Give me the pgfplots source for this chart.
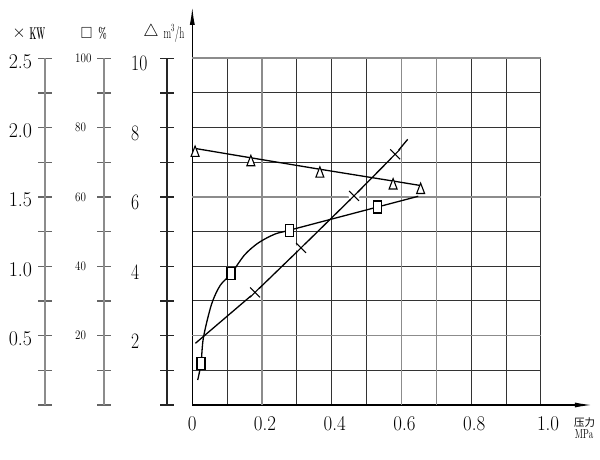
\documentclass[border=0pt]{standalone}
\usepackage{pgfplots}
\pgfplotsset{compat=1.18}
\usepackage{fontspec}
\usepackage{amssymb}
\usepackage{graphicx}
\usetikzlibrary{arrows.meta}
\newfontfamily\cjk{Noto Sans CJK SC}

\newcommand\xl[1]{\scalebox{0.9}[1]{\fontsize{21}{21}\selectfont #1}}
\newcommand\kl[1]{\scalebox{0.95}[1]{\fontsize{21}{21}\selectfont #1}}
\newcommand\pl[1]{\scalebox{0.85}[1]{\fontsize{13}{13}\selectfont #1}}
\newcommand\ml[1]{\scalebox{0.8}[1]{\fontsize{22}{22}\selectfont #1}}

\pgfdeclareplotmark{xw}{%
  \pgfpathcircle{\pgfpointorigin}{0.8\pgfplotmarksize}%
  \pgfsetfillcolor{white}\pgfusepathqfill
  \pgfpathmoveto{\pgfqpoint{-0.70710678\pgfplotmarksize}{-0.70710678\pgfplotmarksize}}%
  \pgfpathlineto{\pgfqpoint{0.70710678\pgfplotmarksize}{0.70710678\pgfplotmarksize}}%
  \pgfpathmoveto{\pgfqpoint{-0.70710678\pgfplotmarksize}{0.70710678\pgfplotmarksize}}%
  \pgfpathlineto{\pgfqpoint{0.70710678\pgfplotmarksize}{-0.70710678\pgfplotmarksize}}%
  \pgfusepathqstroke
}

\pgfplotsset{
  leftax/.style={at={(#1,54pt)}, anchor=south west, scale only axis,
    width=20pt, height=346.7pt, xmin=0, xmax=1, ymin=0, ymax=10,
    hide x axis, axis y line=left, y axis line style={-},
    ytick={0,...,10}, tick align=center, major tick length=14pt,
    yticklabel style={inner sep=0pt}},
  overlay/.style={at={(192.3pt,54pt)}, anchor=south west, scale only axis,
    width=348.6pt, height=346.7pt, xmin=0, xmax=1, hide axis, clip=false},
}

\begin{document}
\begin{tikzpicture}
\path[use as bounding box] (0,0) rectangle (600pt,459pt);

% KW scale
\begin{axis}[leftax=45pt,
  y axis line style={draw=black!45, line width=1.6pt},
  ytick style={draw=black!60, line width=1.3pt},
  yticklabels={,,\kl{0.5},,\kl{1.0},,\kl{1.5},,\kl{2.0},,\kl{2.5}},
  yticklabel style={anchor=east, xshift=-5.7pt, yshift=-3pt}]
\end{axis}
% percent scale
\begin{axis}[leftax=104pt,
  y axis line style={draw=black!45, line width=1.6pt},
  ytick style={draw=black!60, line width=1.3pt},
  yticklabels={,,\pl{20},,\pl{40},,\pl{60},,\pl{80},,\pl{100}},
  yticklabel style={anchor=west, xshift=-22pt, yshift=0pt}]
\end{axis}
% m3/h scale
\begin{axis}[leftax=167pt,
  y axis line style={draw=black!85, line width=1.3pt},
  ytick style={draw=black!85, line width=1.3pt},
  yticklabels={,,\ml{2},,\ml{4},,\ml{6},,\ml{8},,\ml{10}},
  yticklabel style={anchor=west, xshift=-29pt, yshift=-5.5pt}]
\end{axis}

% main grid axis with flow series
\begin{axis}[at={(192.3pt,54pt)}, anchor=south west, scale only axis,
  width=348.6pt, height=346.7pt,
  xmin=0, xmax=1, ymin=0, ymax=10, clip=false,
  axis x line=bottom, axis y line=left,
  axis line style={black, line width=1.3pt},
  x axis line style={-{Latex[length=17pt,width=5pt]}, shorten >=-51pt},
  y axis line style={-{Latex[length=18pt,width=5pt]}, shorten >=-51.5pt},
  major tick length=0pt,
  grid=major, major grid style={black!80, line width=1pt},
  xtick={0,0.1,0.3,0.4,0.5,0.8,0.9,1},
  xticklabels={\xl{0},,,\xl{\kern6.7pt 0.4},,\xl{\kern6.7pt 0.8},,\xl{\kern16pt 1.0}},
  extra x ticks={0.2,0.6,0.7},
  extra x tick labels={\xl{\kern6.7pt 0.2},\xl{\kern6.7pt 0.6},},
  extra x tick style={major grid style={black!45, line width=1.6pt}},
  ytick={0,1,3,4,5,7,8,9}, yticklabels={},
  extra y ticks={2,6,10}, extra y tick labels={},
  extra y tick style={major grid style={black!45, line width=1.6pt}},
  xticklabel style={anchor=north, inner sep=0pt, yshift=-11.7pt},
]
\addplot[black, line width=1.3pt, mark=triangle*, mark size=4.6pt,
  mark options={fill=white, draw=black, line width=1.1pt, yscale=1.5, yshift=-3pt}]
  coordinates {(0.008,7.40)(0.168,7.13)(0.366,6.80)(0.576,6.46)(0.655,6.33)};
\end{axis}

% efficiency (%) series
\begin{axis}[overlay, ymin=0, ymax=100]
\addplot[black, line width=1.3pt, smooth, tension=0.5]
  coordinates {(0.0155,7.2)(0.025,12.0)(0.032,19.5)(0.055,29)(0.08,34.5)(0.111,37.8)
   (0.15,43.3)(0.19,46.8)(0.237,49.3)(0.278,50.4)(0.531,57.1)(0.648,60.2)};
\addplot[only marks, mark=square*, mark size=4pt,
  mark options={fill=white, draw=black, line width=1.1pt, yscale=1.5}]
  coordinates {(0.025,12.0)(0.111,37.8)(0.278,50.4)(0.531,57.1)};
\end{axis}

% power (KW) series
\begin{axis}[overlay, ymin=0, ymax=2.5]
\addplot[black, line width=1.3pt, mark=xw, mark size=7pt, mark indices={2,3,4,5},
  mark options={line width=1.1pt}]
  coordinates {(0.009,0.445)(0.18,0.812)(0.312,1.133)(0.464,1.508)(0.582,1.808)(0.618,1.916)};
\end{axis}

% scale headers
\node at (19pt,425.5pt) {\fontsize{19}{19}\selectfont$\times$};
\node at (37.5pt,425.5pt) {\scalebox{0.45}[1]{\fontsize{17}{17}\selectfont\bfseries KW}};
\node at (86.7pt,426pt) {\scalebox{1.05}[1.15]{\fontsize{14}{14}\selectfont$\square$}};
\node at (102.5pt,426pt) {\scalebox{0.6}[1]{\fontsize{15}{15}\selectfont\bfseries\%}};
\node at (151pt,426.5pt) {\fontsize{16}{16}\selectfont$\triangle$};
\node at (174pt,425.5pt) {\scalebox{0.62}[1]{\fontsize{16}{16}\selectfont m$^3$/h}};
% x axis name
\node at (584.5pt,36pt) {\cjk\fontsize{10.5}{10.5}\selectfont 压力};
\node at (584pt,25pt) {\scalebox{0.7}[1]{\fontsize{13}{13}\selectfont MPa}};
\end{tikzpicture}
\end{document}
